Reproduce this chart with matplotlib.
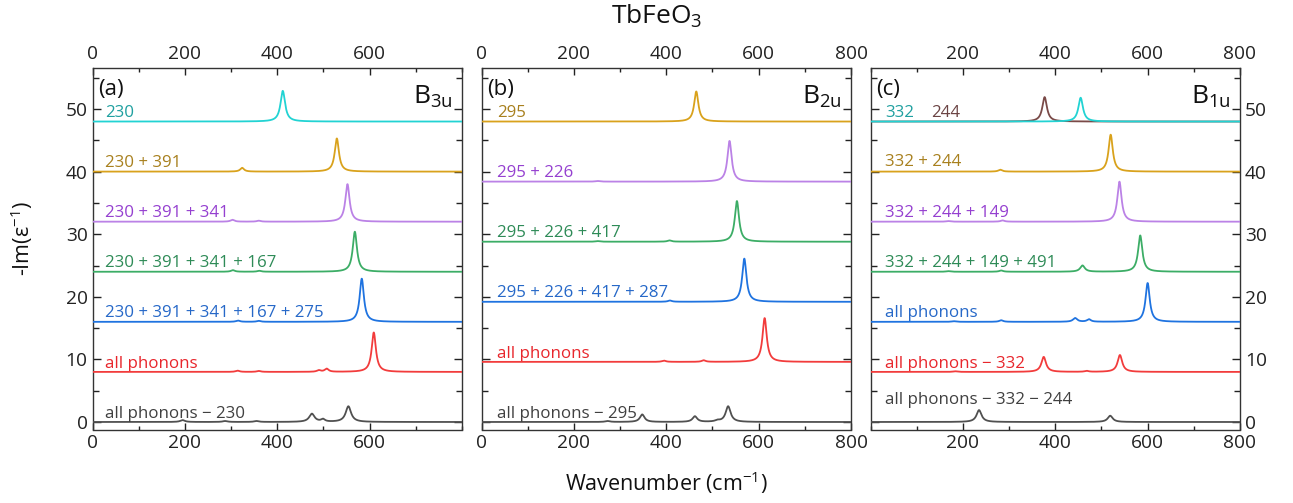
import numpy as np
import matplotlib
matplotlib.use("Agg")
import matplotlib.pyplot as plt
from matplotlib.ticker import MultipleLocator, FixedLocator

plt.rcParams['font.family'] = ['Open Sans', 'DejaVu Sans']
plt.rcParams['mathtext.fontset'] = 'custom'
plt.rcParams['mathtext.rm'] = 'Open Sans'
plt.rcParams['mathtext.it'] = 'Open Sans:italic'

# ---------------- data ----------------
# each series: label, offset, peak centres (cm-1), peak heights, peak HWHM
panel_a_labels = ["all phonons \u2212 230", "all phonons", "230 + 391 + 341 + 167 + 275",
                  "230 + 391 + 341 + 167", "230 + 391 + 341", "230 + 391", "230"]
panel_a_offsets = [0, 8, 16, 24, 32, 40, 48]
panel_a_centres = [[195, 287, 355, 475, 499, 554], [314, 360, 490, 507, 609],
                   [315, 360, 583], [304, 361, 568], [303, 360, 552], [324, 529], [412]]
panel_a_heights = [[0.3, 0.15, 0.15, 1.3, 0.4, 2.5], [0.2, 0.15, 0.25, 0.5, 6.3],
                   [0.2, 0.15, 6.9], [0.25, 0.15, 6.4], [0.3, 0.15, 6.0], [0.6, 5.3], [4.9]]
panel_a_widths = [[6, 6, 6, 7, 5, 7], [5, 5, 5, 5, 5.5],
                  [5, 5, 5.5], [5, 5, 5.5], [5, 5, 5.5], [5, 5.5], [6]]

panel_b_labels = ["all phonons \u2212 295", "all phonons", "295 + 226 + 417 + 287",
                  "295 + 226 + 417", "295 + 226", "295"]
panel_b_offsets = [0, 9.6, 19.2, 28.8, 38.4, 48]
panel_b_centres = [[273, 348, 462, 511, 534], [395, 481, 613], [408, 569],
                   [251, 407, 553], [251, 537], [465]]
panel_b_heights = [[0.15, 1.2, 0.9, 0.2, 2.5], [0.2, 0.25, 7.0], [0.2, 6.9],
                   [0.1, 0.2, 6.5], [0.1, 6.5], [4.8]]
panel_b_widths = [[6, 6, 6, 6, 6.5], [5, 5, 5.5], [5, 5.5],
                  [5, 5, 5.5], [5, 5.5], [5.5]]

panel_c_labels = ["all phonons \u2212 332 \u2212 244", "all phonons \u2212 332", "all phonons",
                  "332 + 244 + 149 + 491", "332 + 244 + 149", "332 + 244", "244", "332"]
panel_c_offsets = [0, 8, 16, 24, 32, 40, 48, 48]
panel_c_centres = [[235, 519], [183, 375, 468, 540], [180, 283, 443, 473, 600],
                   [168, 283, 459, 584], [168, 286, 539], [281, 520], [377], [455]]
panel_c_heights = [[1.9, 1.0], [0.1, 2.4, 0.15, 2.7], [0.1, 0.25, 0.6, 0.4, 6.2],
                   [0.1, 0.2, 1.0, 5.8], [0.1, 0.2, 6.4], [0.3, 5.9], [3.9], [3.8]]
panel_c_widths = [[6.5, 6.5], [5, 6, 5, 6], [5, 5, 5.5, 5, 5.5],
                  [5, 5, 6, 5.5], [5, 5, 5.5], [5, 5.5], [6], [6]]

# line colours / label colours (bottom to top)
line_a = ["#505050", "#f23c3c", "#1f73e0", "#3cad66", "#bb82e6", "#d9a21c", "#22d3d3"]
text_a = ["#404040", "#e8262c", "#2668c8", "#2e8b57", "#9540d0", "#a8801e", "#1fa0a0"]
line_b = ["#505050", "#f23c3c", "#1f73e0", "#3cad66", "#bb82e6", "#d9a21c"]
text_b = ["#404040", "#e8262c", "#2668c8", "#2e8b57", "#9540d0", "#a8801e"]
line_c = ["#505050", "#f23c3c", "#1f73e0", "#3cad66", "#bb82e6", "#d9a21c", "#7a4a48", "#22d3d3"]
text_c = ["#404040", "#e8262c", "#2668c8", "#2e8b57", "#9540d0", "#a8801e", "#6b4444", "#1fa0a0"]

label_x_a = [27] * 7
label_x_b = [33] * 6
label_x_c = [32, 32, 32, 32, 32, 32, 132, 32]
label_dy_a = [0.7] * 7
label_dy_b = [0.7] * 6
label_dy_c = [2.8, 0.7, 0.7, 0.8, 0.8, 0.9, 0.8, 0.8]

x = np.linspace(0, 800, 4001)


def lorentz(xx, centres, heights, widths):
    y = np.zeros_like(xx)
    for c, h, g in zip(centres, heights, widths):
        y += h * g ** 2 / ((xx - c) ** 2 + g ** 2)
    return y


fig = plt.figure(figsize=(12.93, 5.03), dpi=100)
W, H = 1293.0, 503.0
top_px, bot_px = 67.7, 429.5
lefts = [92.5, 481.5, 870.5]
rights = [462.0, 851.0, 1240.0]
axes = []
for l, r in zip(lefts, rights):
    ax = fig.add_axes([l / W, 1 - bot_px / H, (r - l) / W, (bot_px - top_px) / H])
    axes.append(ax)

panels = [
    (panel_a_labels, panel_a_offsets, panel_a_centres, panel_a_heights, panel_a_widths,
     line_a, text_a, label_x_a, label_dy_a),
    (panel_b_labels, panel_b_offsets, panel_b_centres, panel_b_heights, panel_b_widths,
     line_b, text_b, label_x_b, label_dy_b),
    (panel_c_labels, panel_c_offsets, panel_c_centres, panel_c_heights, panel_c_widths,
     line_c, text_c, label_x_c, label_dy_c),
]
letters = ["(a)", "(b)", "(c)"]
modes = ["B$_{3\\mathrm{u}}$", "B$_{2\\mathrm{u}}$", "B$_{1\\mathrm{u}}$"]
xticklabel_sets = [[0, 200, 400, 600], [0, 200, 400, 600, 800], [200, 400, 600, 800]]

for i, (ax, p) in enumerate(zip(axes, panels)):
    labels, offsets, centres, heights, widths, lc, tc, lx, ldy = p
    for j in range(len(labels)):
        y = offsets[j] + lorentz(x, centres[j], heights[j], widths[j])
        ax.plot(x, y, color=lc[j], lw=1.3, zorder=3 + j * 0.01)
        ax.text(lx[j], offsets[j] + ldy[j], labels[j], color=tc[j], fontsize=12.2,
                ha='left', va='baseline')
    ax.set_xlim(0, 800)
    ax.set_ylim(-1.2, 56.6)
    ax.xaxis.set_major_locator(FixedLocator(xticklabel_sets[i]))
    ax.xaxis.set_minor_locator(MultipleLocator(100))
    ax.yaxis.set_major_locator(MultipleLocator(10))
    ax.yaxis.set_minor_locator(MultipleLocator(5))
    ax.tick_params(axis='both', which='both', direction='in', top=True, bottom=True,
                   left=True, right=True, labeltop=True, labelbottom=True,
                   labelsize=13.8, colors='#222222')
    ax.tick_params(which='major', length=5, width=1.0)
    ax.tick_params(which='minor', length=3, width=1.0)
    ax.tick_params(axis='y', which='major', length=6)
    ax.tick_params(axis='y', which='minor', length=4)
    ax.tick_params(axis='y', labelleft=(i == 0), labelright=(i == 2))
    for s in ax.spines.values():
        s.set_color('#333333')
        s.set_linewidth(1.0)
    ax.text(0.016, 0.97, letters[i], transform=ax.transAxes, fontsize=16,
            ha='left', va='top', color='#111111')
    ax.text(0.975, 0.955, modes[i], transform=ax.transAxes, fontsize=19,
            ha='right', va='top', color='#111111')

fig.text(657 / W, 1 - 16 / H, "TbFeO$_3$", fontsize=19, ha='center', va='center', color='#111111')
fig.text(666 / W, 1 - 483 / H, "Wavenumber (cm$^{-1}$)", fontsize=15.5, ha='center',
         va='center', color='#111111')
fig.text(22 / W, 1 - 238 / H, "-Im(\u03b5$^{-1}$)", fontsize=15.5, ha='center', va='center',
         rotation=90, color='#111111')

fig.savefig("out.png", dpi=100)
